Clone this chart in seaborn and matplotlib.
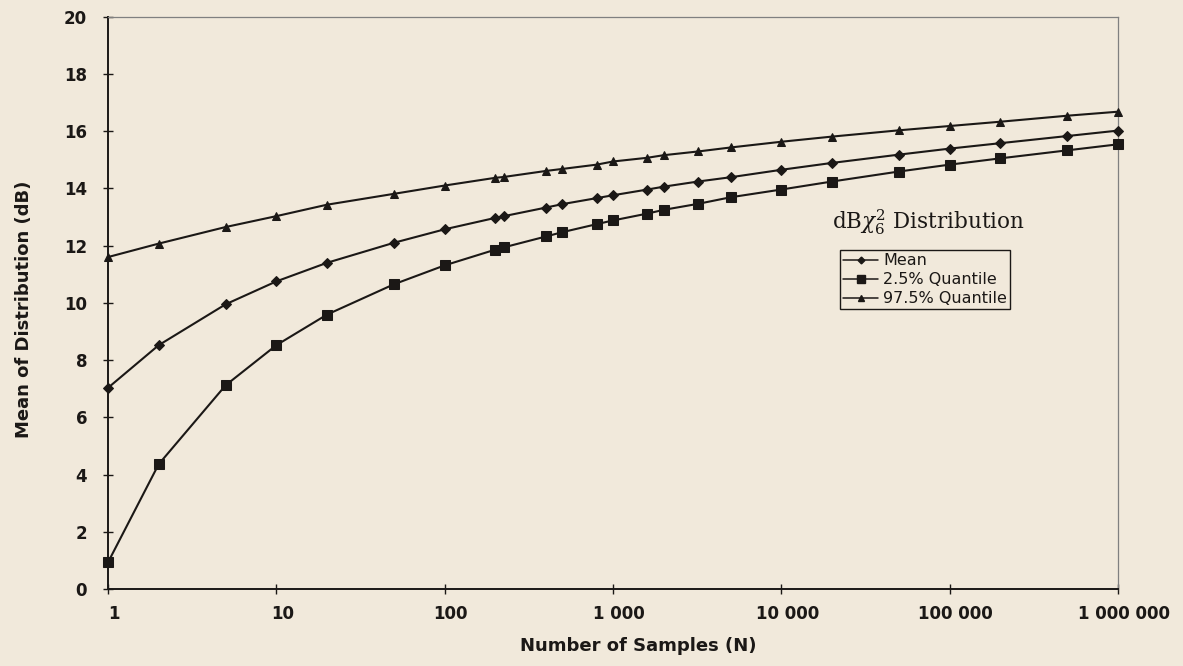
import numpy as np
import pandas as pd
import matplotlib
matplotlib.use("Agg")
import matplotlib.pyplot as plt
import matplotlib.transforms as mtransforms
from matplotlib.ticker import FuncFormatter, FixedLocator, NullLocator
from matplotlib.lines import Line2D
import seaborn as sns

# ---- data ----
n_samples = [1, 2, 5, 10, 20, 50, 100, 200, 225, 400, 500, 800, 1000, 1600, 2000,
             3200, 5000, 10000, 20000, 50000, 100000, 200000, 500000, 1000000]
mean_db = [7.03, 8.52, 9.95, 10.75, 11.40, 12.10, 12.57, 12.97, 13.03, 13.33, 13.45,
           13.66, 13.76, 13.96, 14.06, 14.24, 14.39, 14.65, 14.89, 15.18, 15.39,
           15.58, 15.83, 16.02]
q025_db = [0.93, 4.36, 7.12, 8.52, 9.59, 10.65, 11.31, 11.86, 11.94, 12.32, 12.47,
           12.75, 12.88, 13.12, 13.25, 13.46, 13.69, 13.96, 14.24, 14.59, 14.83,
           15.05, 15.33, 15.54]
q975_db = [11.60, 12.07, 12.65, 13.03, 13.43, 13.81, 14.10, 14.37, 14.40, 14.61, 14.68,
           14.83, 14.94, 15.07, 15.16, 15.29, 15.43, 15.63, 15.81, 16.03, 16.18,
           16.33, 16.54, 16.68]
series_names = ["Mean", "2.5% Quantile", "97.5% Quantile"]
x_ticks = [1, 10, 100, 1000, 10000, 100000, 1000000]
y_ticks = [0, 2, 4, 6, 8, 10, 12, 14, 16, 18, 20]

df = pd.concat([
    pd.DataFrame({"N": n_samples, "dB": vals, "series": name})
    for name, vals in zip(series_names, [mean_db, q025_db, q975_db])
], ignore_index=True)

bg = "#F1E9DB"
ink = "#1b1816"

sns.set_theme(style="white")
plt.rcParams["font.family"] = ["DejaVu Sans"]
plt.rcParams["mathtext.fontset"] = "dejavuserif"

W, H = 1183, 666
fig = plt.figure(figsize=(W / 100, H / 100), dpi=100)
fig.patch.set_facecolor(bg)
ax = fig.add_axes([108 / W, 1 - 589 / H, (1118 - 108) / W, (589 - 16.7) / H])
ax.set_facecolor(bg)

markers = {"Mean": "D", "2.5% Quantile": "s", "97.5% Quantile": "^"}
sizes = {"Mean": 4.6, "2.5% Quantile": 6.8, "97.5% Quantile": 5.8}
for name in series_names:
    sub = df[df["series"] == name]
    sns.lineplot(data=sub, x="N", y="dB", ax=ax, color=ink, lw=1.5,
                 marker=markers[name], markersize=sizes[name],
                 markeredgecolor=ink, markerfacecolor=ink, legend=False,
                 clip_on=False, zorder=3)

ax.set_xscale("log")
ax.set_xlim(1, 1e6)
ax.set_ylim(0, 20)
ax.xaxis.set_major_locator(FixedLocator(x_ticks))
ax.xaxis.set_minor_locator(NullLocator())
ax.xaxis.set_major_formatter(FuncFormatter(lambda v, p: f"{int(round(v)):,}".replace(",", " ")))
ax.set_yticks(y_ticks)

ax.tick_params(axis="both", which="major", direction="inout", length=7, width=1.0,
               color=ink, labelsize=12, labelcolor=ink)
ax.tick_params(axis="y", pad=11.5, left=True)
ax.tick_params(axis="x", pad=8, bottom=True)
offset = mtransforms.ScaledTranslation(6 / 100, 0, fig.dpi_scale_trans)
for lab in ax.get_xticklabels():
    lab.set_fontweight("bold")
    lab.set_transform(lab.get_transform() + offset)
for lab in ax.get_yticklabels():
    lab.set_fontweight("bold")

for side in ["left", "bottom"]:
    ax.spines[side].set_color(ink)
    ax.spines[side].set_linewidth(1.4)
for side in ["top", "right"]:
    ax.spines[side].set_color("#808080")
    ax.spines[side].set_linewidth(0.9)

ax.set_xlabel("Number of Samples (N)", fontsize=13, fontweight="bold", color=ink)
ax.xaxis.set_label_coords((638 - 108) / 1010, (589 - 637) / 572.3)
ax.set_ylabel("Mean of Distribution (dB)", fontsize=13, fontweight="bold", color=ink)
ax.yaxis.set_label_coords((33 - 108) / 1010, (589 - 309) / 572.3)

fig.text(928 / W, 1 - 222.5 / H, r"dB$\chi_6^2$ Distribution",
         fontsize=15.5, family=["DejaVu Serif"], color=ink,
         ha="center", va="center")

handles = [Line2D([], [], color=ink, lw=1.1, marker=markers[n],
                  markersize=sizes[n] * 0.75, markerfacecolor=ink, markeredgecolor=ink)
           for n in series_names]
leg = ax.legend(handles, series_names, loc="upper left",
                bbox_to_anchor=(840 / W, 1 - 250 / H), bbox_transform=fig.transFigure,
                frameon=True, fancybox=False, edgecolor=ink, facecolor=bg, framealpha=1,
                fontsize=11.5, handlelength=2.2, handletextpad=0.3, labelspacing=0.25,
                borderpad=0.2, borderaxespad=0)
leg.get_frame().set_linewidth(1.0)
for t in leg.get_texts():
    t.set_color(ink)

fig.savefig("out.png", dpi=100, facecolor=bg)
